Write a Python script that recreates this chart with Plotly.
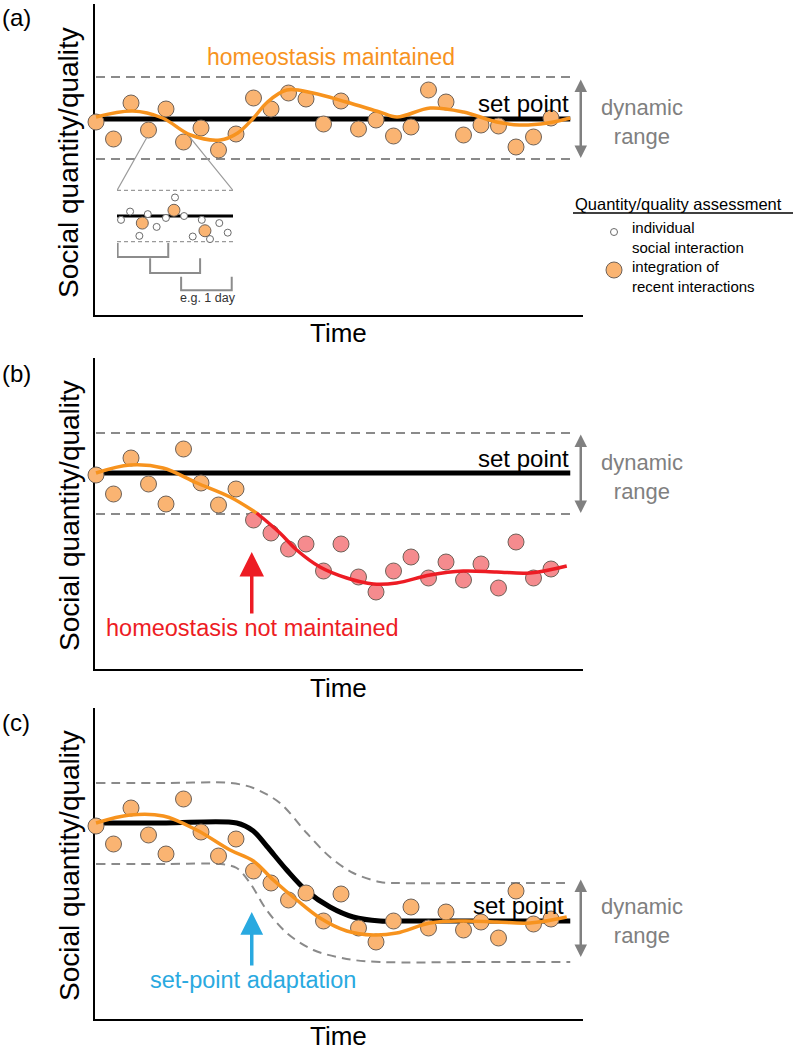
import plotly.graph_objects as go

W, H = 796, 1050
FONT = "Liberation Sans, Arial, Helvetica, sans-serif"

# ---------------- data ----------------
# time unit = one integration window (e.g. 1 day); value = deviation from initial set point
days = list(range(27))

# panel (a): homeostasis maintained
a_points = [-0.3, -2.0, 1.6, -1.1, 1.0, -2.3, -0.9, -3.1, -1.5, 2.1, 1.0, 2.6, 2.0, -0.5,
            1.8, -1.0, -0.1, -1.7, -0.8, 2.9, 1.7, -1.6, -0.6, -0.7, -2.8, -1.8, 0.1]
a_curve_t = [0, 2.1, 3.8, 5.4, 7.1, 8.1, 9.0, 9.8, 10.9, 12.4, 14.3, 16.2, 17.2, 19.1, 21.0,
             22.9, 24.2, 25.8, 27.1]
a_curve_v = [0.2, 0.8, 0.1, -1.6, -2.1, -1.4, 0.1, 1.7, 2.9, 2.6, 1.7, 0.7, 0.2, 1.1, 0.7,
             -0.3, -0.6, -0.4, 0.1]
a_set_t = [0, 27.1]
a_set_v = [0, 0]
a_upper = [4.2, 4.2]
a_lower = [-4.0, -4.0]

# panel (b): homeostasis not maintained
b_points = [-0.2, -2.1, 1.5, -1.1, -3.1, 2.4, -1.0, -3.2, -1.6, -4.7, -6.0, -7.6, -7.1, -9.8,
            -7.1, -10.4, -11.9, -9.8, -8.4, -10.5, -8.9, -10.7, -9.1, -11.5, -6.9, -10.5, -9.6]
b_n_within = 9
b_ok_t = [0, 1.94, 3.83, 5.77, 7.66, 9.18]
b_ok_v = [0, 0.8, 0.5, -1.0, -2.4, -4.0]
b_fail_t = [9.18, 10.51, 11.47, 12.8, 14.33, 15.85, 17.18, 19.09, 20.99, 22.9, 24.8, 26.9]
b_fail_v = [-4.0, -6.0, -7.7, -9.4, -10.5, -11.1, -11.0, -10.2, -9.8, -9.9, -10.0, -9.3]
b_set_t = [0, 27.1]
b_set_v = [0, 0]
b_upper = [4.0, 4.0]
b_lower = [-4.1, -4.1]

# panel (c): set-point adaptation
c_points = [-0.3, -2.1, 1.5, -1.2, -3.1, 2.4, -0.9, -3.3, -1.6, -4.8, -6.0, -7.7, -7.0, -9.8,
            -7.1, -10.5, -11.9, -9.8, -8.4, -10.5, -8.9, -10.7, -9.9, -11.5, -6.8, -10.1, -9.6]
c_curve_t = [0, 1.94, 3.85, 5.75, 7.66, 8.99, 10.13, 11.47, 12.8, 14.33, 15.85, 17.18, 19.09,
             20.99, 22.9, 24.8, 26.9]
c_curve_v = [0, 0.8, 0.7, -0.7, -2.7, -3.8, -5.7, -7.7, -9.5, -10.8, -11.2, -11.0, -10.0,
             -9.8, -9.9, -10.0, -9.4]
c_set_t = [0, 4.0, 8.04, 8.99, 9.75, 10.9, 12.04, 13.37, 14.7, 16.23, 17.18, 22.0, 27.1]
c_set_v = [0, 0, 0, -0.8, -2.3, -4.7, -6.8, -8.4, -9.4, -9.8, -9.8, -9.8, -9.8]
c_upper_t = [0, 4.0, 7.66, 8.99, 10.51, 12.04, 13.37, 14.7, 16.23, 17.18, 22.0, 27.1]
c_upper_v = [4.0, 4.0, 4.0, 3.5, 2.0, -1.0, -3.4, -5.0, -5.9, -6.0, -6.0, -6.0]
c_lower_t = [0, 4.0, 7.09, 8.04, 8.8, 9.75, 10.9, 12.42, 14.33, 16.23, 22.0, 27.1]
c_lower_v = [-4.1, -4.1, -4.1, -4.5, -6.0, -8.7, -11.0, -12.7, -13.6, -13.9, -13.9, -13.9]

# inset: individual interactions over ~55 hours
inset_hours = [1.9, 6.2, 10.6, 14.6, 18.8, 23.2, 27.5, 31.8, 35.9, 40.2, 44.1, 48.5, 52.5]
inset_values = [-0.6, 0.7, -3.1, 0.3, -1.7, -0.3, 2.9, 0.0, -3.2, -0.6, -3.6, -1.1, -2.6]
inset_int_hours = [12.0, 27.0, 41.7]
inset_int_values = [-1.1, 0.9, -2.3]
window_start = [0.3, 15.7, 30.4]
window_end = [24.3, 39.4, 54.4]
window_top = [-4.2, -6.6, -9.5]
window_bottom = [-6.4, -8.9, -11.6]
inset_span = [0, 55]
inset_band = [4.0, -4.0]

# ---------------- styles ----------------
ORANGE_LINE = "#f7931e"
ORANGE_DOT = "#fab472"
PINK_DOT = "#f58b8e"
RED = "#ed1c24"
BLUE = "#29a9e0"
GRAY = "#8a8a8a"
DOT_EDGE = "#6e6259"

fig = go.Figure()


def line(t, v, color, width, xa, ya, dash=None, shape="spline", smoothing=1.0):
    fig.add_trace(go.Scatter(x=t, y=v, mode="lines", xaxis=xa, yaxis=ya, showlegend=False,
                             hoverinfo="skip",
                             line=dict(color=color, width=width, dash=dash, shape=shape,
                                       smoothing=smoothing)))


def dots(t, v, fill, size, xa, ya, edge=DOT_EDGE, ew=1):
    fig.add_trace(go.Scatter(x=t, y=v, mode="markers", xaxis=xa, yaxis=ya, showlegend=False,
                             hoverinfo="skip", cliponaxis=False,
                             marker=dict(color=fill, size=size, line=dict(color=edge, width=ew))))


DASH = "9px,6px"

# panel (a)
line(a_set_t, a_upper, GRAY, 2, "x", "y", dash=DASH, shape="linear")
line(a_set_t, a_lower, GRAY, 2, "x", "y", dash=DASH, shape="linear")
line(a_set_t, a_set_v, "black", 5, "x", "y", shape="linear")
dots(days, a_points, ORANGE_DOT, 16, "x", "y")
line(a_curve_t, a_curve_v, ORANGE_LINE, 3.5, "x", "y")

# panel (b)
line(b_set_t, b_upper, GRAY, 2, "x2", "y2", dash=DASH, shape="linear")
line(b_set_t, b_lower, GRAY, 2, "x2", "y2", dash=DASH, shape="linear")
line(b_set_t, b_set_v, "black", 5, "x2", "y2", shape="linear")
dots(days[:b_n_within], b_points[:b_n_within], ORANGE_DOT, 16, "x2", "y2")
dots(days[b_n_within:], b_points[b_n_within:], PINK_DOT, 16, "x2", "y2")
line(b_ok_t, b_ok_v, ORANGE_LINE, 3.5, "x2", "y2")
line(b_fail_t, b_fail_v, RED, 3.5, "x2", "y2")

# panel (c)
line(c_upper_t, c_upper_v, GRAY, 2, "x3", "y3", dash=DASH, smoothing=0.9)
line(c_lower_t, c_lower_v, GRAY, 2, "x3", "y3", dash=DASH, smoothing=0.9)
line(c_set_t, c_set_v, "black", 5, "x3", "y3", smoothing=0.9)
dots(days, c_points, ORANGE_DOT, 16, "x3", "y3")
line(c_curve_t, c_curve_v, ORANGE_LINE, 3.5, "x3", "y3")

# inset (axes x4/y4)
line([14.2, inset_span[0]], [12.3, inset_band[0]], "#9a9a9a", 1.2, "x4", "y4", shape="linear")
line([34.6, inset_span[1]], [12.3, inset_band[0]], "#9a9a9a", 1.2, "x4", "y4", shape="linear")
line(inset_span, [inset_band[0]] * 2, "#9a9a9a", 1.3, "x4", "y4", dash="4px,3px", shape="linear")
line(inset_span, [inset_band[1]] * 2, "#9a9a9a", 1.3, "x4", "y4", dash="4px,3px", shape="linear")
line(inset_span, [0, 0], "black", 3, "x4", "y4", shape="linear")
bx, by = [], []
for s, e, tp, bt in zip(window_start, window_end, window_top, window_bottom):
    bx += [s, s, e, e, None]
    by += [tp, bt, bt, tp, None]
line(bx, by, "#8c8c8c", 2, "x4", "y4", shape="linear")
dots(inset_hours, inset_values, "white", 7, "x4", "y4", edge="#6a6a6a", ew=1)
dots(inset_int_hours, inset_int_values, ORANGE_DOT, 12, "x4", "y4")

# legend symbols (axes x5/y5)
dots([0], [1], "white", 7, "x5", "y5", edge="#6a6a6a", ew=1)
dots([0], [-1], ORANGE_DOT, 16, "x5", "y5")


# ---------------- axes ----------------
def xdom(p0, p1):
    return [p0 / W, p1 / W]


def ydom(top, bottom):
    return [1 - bottom / H, 1 - top / H]


PX = 17.5  # px per time unit
X0 = 96
XR = [(95 - X0) / PX, (583 - X0) / PX]
YR = [-19.6, 11.5]
main_ax = dict(showline=True, linecolor="black", linewidth=2, showticklabels=False, ticks="",
               showgrid=False, zeroline=False, layer="below traces", fixedrange=True)
hidden = dict(visible=False, fixedrange=True)

tops = [4, 358, 708]
lay = {}
for i, top in enumerate(tops):
    k = "" if i == 0 else str(i + 1)
    lay["xaxis" + k] = dict(main_ax, domain=xdom(95, 583), range=XR, anchor="y" + k)
    lay["yaxis" + k] = dict(main_ax, domain=ydom(top, top + 311), range=YR, anchor="x" + k)

lay["xaxis4"] = dict(hidden, domain=xdom(117, 233), range=[0, 55], anchor="y4")
lay["yaxis4"] = dict(hidden, domain=ydom(130, 305), range=[-13.9, 13.44], anchor="x4")
lay["xaxis5"] = dict(hidden, domain=xdom(604, 624), range=[-1, 1], anchor="y5")
lay["yaxis5"] = dict(hidden, domain=ydom(232, 270), range=[-1, 1], anchor="x5")


# ---------------- text ----------------
def txt(text, px, py, size, color="black", xanchor="center", angle=0, align="center"):
    return dict(text=text, x=px / W, y=1 - py / H, xref="paper", yref="paper", showarrow=False,
                font=dict(family=FONT, size=size, color=color), xanchor=xanchor,
                yanchor="middle", textangle=angle, align=align)


ann = []
for letter, ty, cy, time_y in [("(a)", 18, 163, 333), ("(b)", 373, 516, 688),
                               ("(c)", 722, 866, 1036)]:
    ann.append(txt(letter, 16, ty, 24))
    ann.append(txt("Social quantity/quality", 69, cy, 28, angle=-90))
    ann.append(txt("Time", 338, time_y, 26))

ann.append(txt("homeostasis maintained", 331, 57, 23, ORANGE_LINE))
ann.append(txt("set point", 571, 103, 24, xanchor="right"))
ann.append(txt("set point", 571, 458, 24, xanchor="right"))
ann.append(txt("set point", 566, 905, 24, xanchor="right"))
for yc in [122, 477, 921]:
    ann.append(txt("dynamic<br>range", 642, yc, 22, "#808080"))
ann.append(txt("homeostasis not maintained", 252, 628, 23.5, RED))
ann.append(txt("set-point adaptation", 253, 980, 23.5, BLUE))

ann.append(txt("Quantity/quality assessment", 573, 204, 16.5, xanchor="left"))
ann.append(txt("individual<br>social interaction", 630, 237, 15, xanchor="left", align="left"))
ann.append(txt("integration of<br>recent interactions", 630, 276, 15, xanchor="left",
               align="left"))
ann.append(dict(text="e.g. 1 day", x=43, y=-12.8, xref="x4", yref="y4", showarrow=False,
                font=dict(family=FONT, size=12.5, color="#333333"), xanchor="center",
                yanchor="middle"))


def arrow(x, y_tail, y_head, xa, ya, color, width, size, both=False):
    d = dict(x=x, y=y_head, ax=x, ay=y_tail, xref=xa, yref=ya, axref=xa, ayref=ya, text="",
             showarrow=True, arrowhead=2, arrowsize=size, arrowwidth=width, arrowcolor=color)
    if both:
        d.update(arrowside="end+start", startarrowhead=2, startarrowsize=size)
    return d


ann.append(arrow(27.7, 4.1, -3.9, "x", "y", "#808080", 2.5, 1.0, both=True))
ann.append(arrow(27.7, 4.0, -4.0, "x2", "y2", "#808080", 2.5, 1.0, both=True))
ann.append(arrow(27.7, -5.5, -13.4, "x3", "y3", "#808080", 2.5, 1.0, both=True))
ann.append(arrow(8.9, -14.2, -7.9, "x2", "y2", RED, 3.5, 1.4))
ann.append(arrow(8.9, -14.4, -8.9, "x3", "y3", BLUE, 3.5, 1.3))

fig.update_layout(
    width=W, height=H, margin=dict(l=0, r=0, t=0, b=0),
    paper_bgcolor="white", plot_bgcolor="rgba(0,0,0,0)",
    showlegend=False, annotations=ann,
    shapes=[dict(type="line", xref="paper", yref="paper", x0=573 / W, x1=793 / W,
                 y0=1 - 213 / H, y1=1 - 213 / H, line=dict(color="black", width=1.5))],
    font=dict(family=FONT),
    **lay,
)

fig.write_html("out.html", config={"displayModeBar": False},
               post_script="document.body.style.margin='0';")
